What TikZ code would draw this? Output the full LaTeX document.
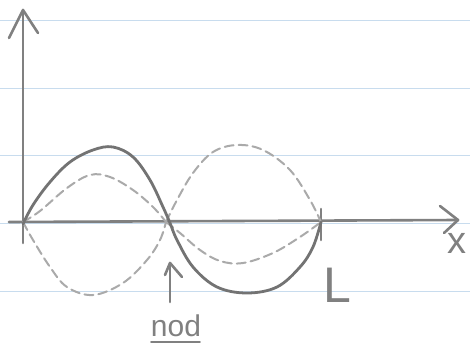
\documentclass[tikz,border=0pt]{standalone}
\usepackage{fontspec}
\setmainfont{Liberation Sans}
\begin{document}
\begin{tikzpicture}[x=1pt,y=1pt,
  rule/.style={draw=ruleblue,line width=0.8pt},
  pencil/.style={draw=pencilgray,line width=2.6pt,line cap=round,line join=round},
  wave/.style={draw=wavegray,line width=2.8pt,line cap=round},
  dwave/.style={draw=dashgray,line width=2pt,dash pattern=on 9pt off 5pt,line cap=round},
  lab/.style={text=pencilgray,inner sep=0pt}]
\definecolor{ruleblue}{RGB}{200,220,238}
\definecolor{pencilgray}{RGB}{128,128,128}
\definecolor{wavegray}{RGB}{115,115,115}
\definecolor{dashgray}{RGB}{170,170,170}
\useasboundingbox (0,0) rectangle (470,345);
\fill[white] (0,0) rectangle (470,345);
% ruled lines
\foreach \yy in {325,257,190,122,54} \draw[rule] (0,\yy) -- (470,\yy);
% named points
\coordinate (O) at (23,123);
\coordinate (N) at (166,123);
\coordinate (Lp) at (321,123);
\coordinate (yt) at (23,335);
\coordinate (yb) at (23,102);
\coordinate (xl) at (9,123);
\coordinate (xt) at (458,125);
% axes
\draw[pencil] (yb) -- (yt);
\draw[pencil] (9,307) -- (yt) -- (38,312);
\draw[pencil] (xl) -- (xt);
\draw[pencil] (440,139) -- (xt) -- (444,112);
% ticks
\draw[pencil] (23,132) -- (23,104);
\draw[pencil] (321,136) -- (321,105);
% dashed waves
\draw[dwave] plot[smooth,tension=0.6] coordinates {(23,123) (40,134) (67,157) (90,170) (110,168) (133,155) (153,138) (166,123)};
\draw[dwave] plot[smooth,tension=0.6] coordinates {(166,123) (177,145) (193,172) (213,193) (237,200) (263,195) (290,175) (310,145) (321,123)};
\draw[dwave] plot[smooth,tension=0.6] coordinates {(23,123) (33,105) (50,78) (67,58) (93,50) (123,62) (147,85) (160,105) (166,123)};
\draw[dwave] plot[smooth,tension=0.6] coordinates {(166,123) (180,112) (200,95) (220,84) (243,82) (273,92) (300,108) (321,123)};
% solid wave
\draw[wave] plot[smooth,tension=0.6] coordinates {(23,121) (33,140) (50,163) (70,183) (93,195) (113,198) (133,188) (150,165) (163,138) (170,122) (177,105) (193,78) (217,58) (247,52) (277,58) (300,78) (313,98) (321,123)};
% node arrow
\coordinate (at) at (170,82);
\coordinate (ab) at (170,43);
\draw[pencil] (ab) -- (at);
\draw[pencil] (165,70) -- (at) -- (182,68);
% labels
\node[lab,font=\fontsize{38}{38}\selectfont] (xlab) at (457,102) {x};
\node[lab,font=\fontsize{50}{50}\selectfont] (Llab) at (337,60) {L};
\node[lab,font=\fontsize{30}{30}\selectfont,anchor=base] (nod) at (176,9) {nod};
\draw[pencil,line width=1.8pt] (151,3) -- (200,3);
\end{tikzpicture}
\end{document}
